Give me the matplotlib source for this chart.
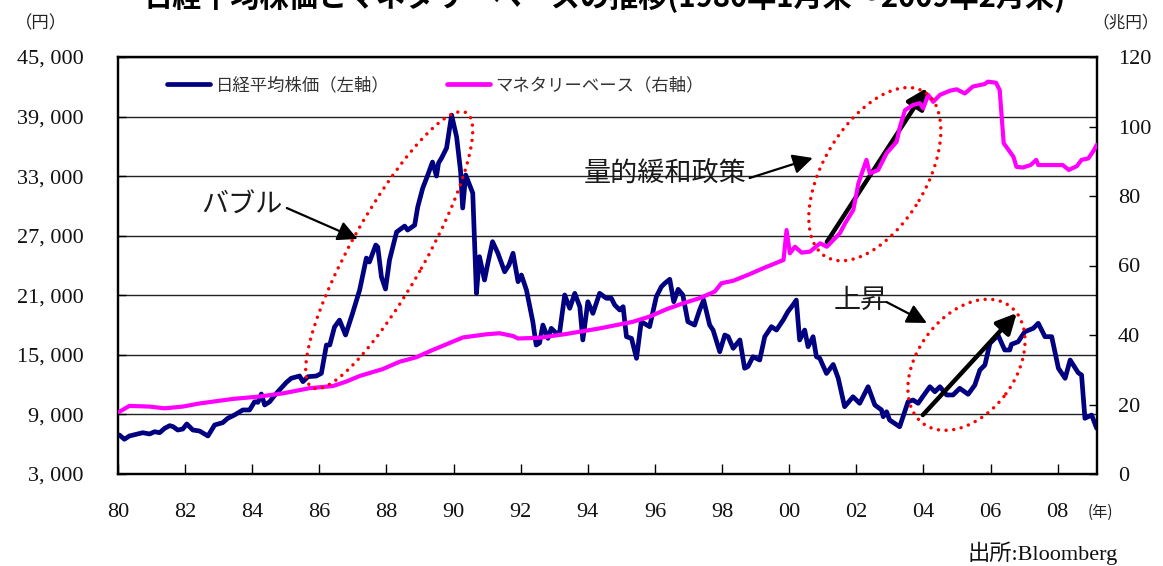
import matplotlib
matplotlib.use('Agg')
import matplotlib.pyplot as plt
from matplotlib.patches import Ellipse
from matplotlib.transforms import IdentityTransform

plt.rcParams['font.family'] = ['Noto Sans CJK JP', 'DejaVu Sans']

# ---------------- data ----------------
title = '日経平均株価とマネタリーベースの推移(1980年1月末～2009年2月末)'
series_names = ['日経平均株価（左軸）', 'マネタリーベース（右軸）']

nikkei_year = [
    1980.04, 1980.19, 1980.34, 1980.74, 1980.94, 1981.09, 1981.24, 1981.39, 1981.54, 1981.64,
    1981.78, 1981.93, 1982.05, 1982.23, 1982.43, 1982.68, 1982.88, 1983.12, 1983.27, 1983.47,
    1983.72, 1983.92, 1984.07, 1984.17, 1984.27, 1984.37, 1984.52, 1984.66, 1984.81, 1985.01,
    1985.16, 1985.41, 1985.51, 1985.66, 1985.91, 1986.06, 1986.21, 1986.31, 1986.45, 1986.60,
    1986.78, 1986.99, 1987.20, 1987.40, 1987.49, 1987.68, 1987.74, 1987.85, 1987.97, 1988.09,
    1988.30, 1988.54, 1988.63, 1988.84, 1988.93, 1989.08, 1989.23, 1989.37, 1989.49, 1989.55,
    1989.64, 1989.79, 1989.94, 1990.09, 1990.21, 1990.27, 1990.36, 1990.57, 1990.68, 1990.77,
    1990.92, 1991.02, 1991.16, 1991.32, 1991.52, 1991.65, 1991.77, 1991.92, 1992.02, 1992.17,
    1992.36, 1992.46, 1992.56, 1992.66, 1992.81, 1992.91, 1993.06, 1993.16, 1993.31, 1993.46,
    1993.61, 1993.76, 1993.85, 1994.00, 1994.15, 1994.35, 1994.55, 1994.70, 1994.80, 1994.95,
    1995.05, 1995.15, 1995.30, 1995.45, 1995.59, 1995.84, 1996.04, 1996.19, 1996.29, 1996.44,
    1996.56, 1996.69, 1996.83, 1996.98, 1997.18, 1997.33, 1997.45, 1997.63, 1997.73, 1997.93,
    1998.08, 1998.18, 1998.33, 1998.53, 1998.67, 1998.77, 1998.92, 1999.12, 1999.27, 1999.47,
    1999.62, 1999.82, 1999.96, 2000.11, 2000.21, 2000.31, 2000.46, 2000.56, 2000.71, 2000.81,
    2000.91, 2001.11, 2001.31, 2001.46, 2001.65, 2001.90, 2002.10, 2002.35, 2002.55, 2002.75,
    2002.80, 2002.90, 2002.99, 2003.29, 2003.54, 2003.69, 2003.84, 2003.99, 2004.19, 2004.34,
    2004.49, 2004.69, 2004.88, 2005.08, 2005.33, 2005.53, 2005.68, 2005.83, 2005.98, 2006.13,
    2006.22, 2006.42, 2006.57, 2006.62, 2006.82, 2007.02, 2007.27, 2007.42, 2007.62, 2007.82,
    2008.02, 2008.22, 2008.37, 2008.61, 2008.71, 2008.81, 2009.01, 2009.16,
]
nikkei_value = [
    6930, 6500, 6830, 7160, 7030, 7260, 7160, 7600, 7870, 7770,
    7430, 7530, 8040, 7430, 7330, 6830, 7940, 8170, 8610, 8940,
    9450, 9450, 10280, 10220, 11060, 9950, 10280, 10890, 11460, 12200,
    12640, 12870, 12300, 12800, 12870, 13140, 15990, 16000, 17800, 18500,
    17000, 19200, 21530, 24750, 24350, 26060, 25860, 22840, 21630, 24550,
    27370, 27970, 27570, 28070, 29890, 31800, 33110, 34420, 33010, 34320,
    34820, 35830, 39150, 36940, 33410, 29790, 33110, 31300, 21200, 24890,
    22540, 24220, 26400, 25230, 23370, 24050, 25230, 22370, 23040, 21530,
    18340, 15990, 16200, 18000, 16660, 17670, 17170, 17300, 21030, 19690,
    21200, 19850, 16500, 20350, 19180, 21200, 20700, 20700, 20020, 19520,
    19850, 16830, 16660, 14650, 18340, 17840, 20860, 21860, 22200, 22610,
    20350, 21600, 21030, 18340, 18000, 19520, 20520, 18000, 17500, 15320,
    17000, 16830, 15660, 16500, 13650, 13820, 14810, 14480, 16830, 17840,
    17500, 18510, 19350, 20020, 20520, 16500, 17500, 15820, 16830, 14810,
    14650, 13130, 14030, 12640, 9780, 10780, 10120, 11790, 9950, 9450,
    8770, 9270, 8440, 7760, 10280, 10450, 10120, 10850, 11790, 11290,
    11790, 10960, 10960, 11630, 11030, 11960, 13470, 13980, 16160, 16660,
    17000, 15490, 15490, 16060, 16320, 17330, 17670, 18180, 16830, 16830,
    13650, 12640, 14480, 13200, 12970, 8610, 8940, 7600,
]

mb_year = [
    1980.04, 1980.34, 1980.94, 1981.39, 1981.93, 1982.43, 1983.42, 1984.22, 1984.91, 1985.71,
    1986.40, 1986.80, 1987.20, 1987.89, 1988.39, 1988.89, 1989.38, 1989.98, 1990.28, 1990.97,
    1991.37, 1991.77, 1991.92, 1992.56, 1993.36, 1994.35, 1995.34, 1995.84, 1996.34, 1996.83,
    1997.33, 1997.78, 1997.98, 1998.33, 1998.82, 1999.22, 1999.83, 1999.92, 2000.02, 2000.17,
    2000.37, 2000.62, 2000.92, 2001.12, 2001.51, 2001.66, 2001.91, 2002.06, 2002.30, 2002.40,
    2002.65, 2002.90, 2003.20, 2003.30, 2003.45, 2003.69, 2003.89, 2003.99, 2004.14, 2004.29,
    2004.49, 2004.79, 2004.99, 2005.23, 2005.47, 2005.82, 2005.92, 2006.16, 2006.27, 2006.39,
    2006.68, 2006.77, 2006.96, 2007.19, 2007.36, 2007.42, 2007.76, 2008.15, 2008.33, 2008.57,
    2008.71, 2008.91, 2009.08, 2009.16,
]
mb_value = [
    17.9, 19.6, 19.4, 18.9, 19.4, 20.3, 21.6, 22.3, 23.2, 24.7,
    25.3, 26.6, 28.2, 30.2, 32.3, 33.6, 35.7, 38.1, 39.3, 40.2,
    40.5, 39.7, 39.0, 39.2, 40.3, 41.9, 43.8, 45.3, 47.4, 49.1,
    50.6, 52.5, 54.9, 55.6, 57.5, 59.2, 61.6, 70.2, 63.5, 65.4,
    63.7, 64.0, 66.4, 65.4, 69.3, 72.1, 76.0, 83.6, 90.4, 86.5,
    87.5, 92.3, 95.6, 100.0, 104.7, 106.2, 106.7, 105.2, 109.1, 107.1,
    109.1, 110.3, 110.7, 109.5, 111.5, 112.2, 112.9, 112.6, 110.5, 95.2,
    91.3, 88.4, 88.2, 88.9, 90.4, 88.9, 88.9, 88.9, 87.5, 88.6,
    90.4, 90.8, 93.2, 94.7,
]

x_tick_years = list(range(1980, 2009, 2))
x_tick_labels = ['80', '82', '84', '86', '88', '90', '92', '94', '96', '98',
                 '00', '02', '04', '06', '08']
left_ticks = [3000, 9000, 15000, 21000, 27000, 33000, 39000, 45000]
left_tick_labels = ['3, 000', '9, 000', '15, 000', '21, 000', '27, 000', '33, 000',
                    '39, 000', '45, 000']
right_ticks = [0, 20, 40, 60, 80, 100, 120]
right_tick_labels = ['0', '20', '40', '60', '80', '100', '120']

# ---------------- figure ----------------
W, H = 1163, 566
fig = plt.figure(figsize=(W / 100, H / 100), dpi=100)
L, R, T, B = 118, 1097, 57, 474
ax = fig.add_axes([L / W, 1 - B / H, (R - L) / W, (B - T) / H])
ax2 = ax.twinx()

NAVY = '#000080'
PINK = '#FF00FF'

l1, = ax.plot(nikkei_year, nikkei_value, color=NAVY, lw=3.4,
              solid_joinstyle='round', solid_capstyle='round', zorder=3)
l2, = ax2.plot(mb_year, mb_value, color=PINK, lw=3.0,
               solid_joinstyle='round', solid_capstyle='round', zorder=3)

ax.set_xlim(1980.0, 2009.17)
ax.set_ylim(3000, 45000)
ax2.set_ylim(0, 120)

ax.set_xticks(x_tick_years)
ax.set_xticklabels(x_tick_labels)
ax.set_yticks(left_ticks)
ax.set_yticklabels(left_tick_labels)
ax2.set_yticks(right_ticks)
ax2.set_yticklabels(right_tick_labels)

ax.yaxis.grid(True, color='#222222', lw=1.0)
ax.set_axisbelow(True)

ax.tick_params(axis='x', direction='in', length=7, width=1, pad=21, labelsize=16,
               labelcolor='#111111', top=False)
ax.tick_params(axis='y', direction='in', length=6, width=1, pad=25, labelsize=16,
               labelcolor='#111111', right=False)
ax2.tick_params(axis='y', direction='in', length=6, width=1, pad=15, labelsize=16,
                labelcolor='#111111')
for lab in ax.get_xticklabels() + ax.get_yticklabels() + ax2.get_yticklabels():
    lab.set_fontfamily('Liberation Serif')

for a in (ax, ax2):
    for sp in a.spines.values():
        sp.set_linewidth(1.6)
        sp.set_color('black')

# legend
leg = ax2.legend([l1, l2], series_names, ncol=2, loc='upper left',
                 bbox_to_anchor=((167 - L) / (R - L), (B - 76) / (B - T)),
                 frameon=False, fontsize=12.5, handlelength=2.5, handletextpad=0.3,
                 columnspacing=3.3, borderpad=0, borderaxespad=0)
for t in leg.get_texts():
    t.set_color('#333333')
for h in leg.get_lines():
    h.set_linewidth(3.4)

# titles / axis units
fig.text(0.52, 1 - 7 / H, title, ha='center', va='baseline', fontsize=21,
         fontweight='bold', color='black')
fig.text(41 / W, 1 - 23 / H, '（円）', ha='center', va='center', fontsize=12.5, color='#222222')
fig.text(1126 / W, 1 - 23 / H, '（兆円）', ha='center', va='center', fontsize=12, color='#222222')
fig.text(1100 / W, 1 - 512 / H, '(年)', ha='center', va='center', fontsize=11, color='#222222')
fig.text(1118 / W, 1 - 553 / H, '出所:Bloomberg', ha='right', va='center', fontsize=16,
         family=['Liberation Serif', 'Noto Sans CJK JP'], color='#111111')

# annotations (data coordinates: year, yen)
TXT = '#1a1a1a'
ax.text(1983.68, 30090, 'バブル', ha='center', va='center', fontsize=19.5, color=TXT)
ax.text(1996.29, 33210, '量的緩和政策', ha='center', va='center', fontsize=19.5, color=TXT)
ax.text(2002.13, 20520, '上昇', ha='center', va='center', fontsize=19.5, color=TXT)

def arrow(tail, tip, lw):
    ax.annotate('', xy=tip, xytext=tail,
                arrowprops=dict(arrowstyle='-|>,head_length=0.6,head_width=0.3',
                                lw=lw, color='black', shrinkA=0, shrinkB=0,
                                mutation_scale=20), zorder=6)

arrow((1985.03, 29790), (1987.14, 26670), 1.6)
arrow((1998.82, 32810), (2000.70, 34830), 1.6)
arrow((2002.90, 20320), (2004.10, 18210), 1.6)
arrow((2001.12, 26370), (2004.10, 41880), 3.2)
arrow((2003.98, 8940), (2006.78, 19210), 3.2)

def ellipse(cyear, cyen, w, h, angle):
    cx, cy = ax.transData.transform((cyear, cyen))
    e = Ellipse((cx, cy), w, h, angle=angle, transform=IdentityTransform(),
                fill=False, edgecolor='red', lw=2.5, linestyle=(0, (0.01, 2.2)),
                capstyle='round', clip_on=False, zorder=5)
    fig.add_artist(e)

ellipse(1988.08, 25550, 315, 74, 60.7)
ellipse(2002.55, 33200, 192, 103, 59.3)
ellipse(2005.28, 14000, 146, 98, 53.6)

fig.savefig('out.png', dpi=100)
